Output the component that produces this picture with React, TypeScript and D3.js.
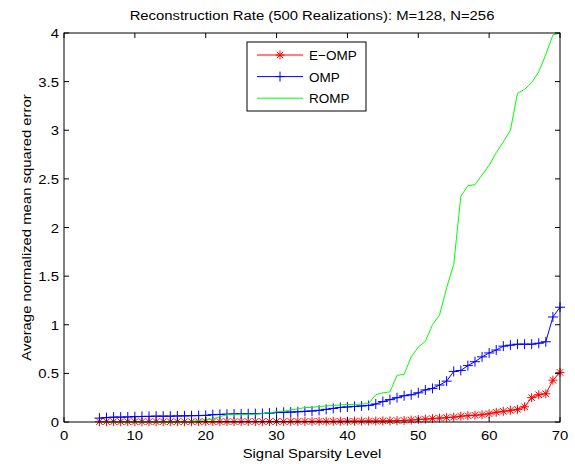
import React, { useEffect, useRef } from 'react';
import * as d3 from 'd3';

const width = 575, height = 464,
    margin = { top: 33, right: 15, bottom: 42, left: 64 };

// signal sparsity levels 5..70
const sparsity = [
    5, 6, 7, 8, 9, 10, 11, 12, 13, 14, 15, 16, 17, 18, 19, 20, 21, 22, 23, 24, 25, 26,
    27, 28, 29, 30, 31, 32, 33, 34, 35, 36, 37, 38, 39, 40, 41, 42, 43, 44, 45, 46, 47,
    48, 49, 50, 51, 52, 53, 54, 55, 56, 57, 58, 59, 60, 61, 62, 63, 64, 65, 66, 67, 68,
    69, 70];

const eomp = [
    0.003, 0.003, 0.003, 0.003, 0.003, 0.003, 0.003, 0.003, 0.003, 0.003, 0.003, 0.003,
    0.003, 0.003, 0.004, 0.004, 0.004, 0.004, 0.004, 0.004, 0.004, 0.005, 0.005, 0.005,
    0.005, 0.005, 0.005, 0.006, 0.006, 0.006, 0.006, 0.007, 0.007, 0.007, 0.008, 0.008,
    0.009, 0.009, 0.01, 0.01, 0.011, 0.012, 0.014, 0.016, 0.02, 0.025, 0.03, 0.035,
    0.04, 0.045, 0.05, 0.06, 0.065, 0.07, 0.075, 0.085, 0.1, 0.11, 0.12, 0.13, 0.157,
    0.25, 0.28, 0.29, 0.43, 0.51];

const omp = [
    0.04, 0.045, 0.05, 0.05, 0.052, 0.055, 0.057, 0.058, 0.06, 0.06, 0.06, 0.062, 0.063,
    0.065, 0.066, 0.068, 0.075, 0.078, 0.08, 0.082, 0.083, 0.085, 0.086, 0.088, 0.092,
    0.097, 0.1, 0.102, 0.105, 0.11, 0.113, 0.12, 0.13, 0.14, 0.15, 0.155, 0.16, 0.165,
    0.17, 0.185, 0.21, 0.23, 0.25, 0.27, 0.28, 0.3, 0.33, 0.345, 0.38, 0.42, 0.52, 0.53,
    0.58, 0.62, 0.67, 0.71, 0.74, 0.78, 0.79, 0.8, 0.8, 0.8, 0.81, 0.825, 1.08, 1.18];

const romp = [
    0, 0, 0, 0, 0, 0, 0, 0, 0, 0, 0, 0, 0, 0.005, 0.015, 0.025, 0.03, 0.055, 0.075,
    0.075, 0.078, 0.08, 0.08, 0.085, 0.095, 0.105, 0.11, 0.125, 0.135, 0.148, 0.15,
    0.16, 0.165, 0.17, 0.175, 0.18, 0.18, 0.185, 0.19, 0.28, 0.3, 0.31, 0.48, 0.49, 0.67,
    0.77, 0.83, 1.0, 1.1, 1.38, 1.62, 2.32, 2.43, 2.44, 2.54, 2.64, 2.77, 2.88, 3.0,
    3.38, 3.42, 3.49, 3.6, 3.78, 3.98, 4.0];

const xTicks = [0, 10, 20, 30, 40, 50, 60, 70];
const yTicks = [0, 0.5, 1, 1.5, 2, 2.5, 3, 3.5, 4];

const series = [
    { name: 'E\u2212OMP', values: eomp, color: '#ff0000', marker: 'star' },
    { name: 'OMP', values: omp, color: '#0000ff', marker: 'plus' },
    { name: 'ROMP', values: romp, color: '#00ff00', marker: 'none' },
];

const font = '"Liberation Sans", Arial, sans-serif';
const fontSize = 13.5;
const stretch = 1.1; // reference text is a bit wider than Arial

// MATLAB-like marker path centred on 0,0
function markerPath(type: string, r: number) {
    if (type === 'plus') return `M${-r},0H${r}M0,${-r}V${r}`;
    if (type === 'star') {
        const k = r * 0.72;
        return `M${-r},0H${r}M0,${-r}V${r}M${-k},${-k}L${k},${k}M${-k},${k}L${k},${-k}`;
    }
    return '';
}

export default function App() {
    const ref = useRef<SVGSVGElement>(null);

    useEffect(() => {
        const svg = d3.select(ref.current);
        svg.selectAll('*').remove();

        const x = d3.scaleLinear().domain([0, 70]).range([margin.left, width - margin.right]);
        const y = d3.scaleLinear().domain([0, 4]).range([height - margin.bottom, margin.top]);
        const [x0, x1] = x.range();
        const [y0, y1] = y.range();

        svg.append('rect').attr('width', width).attr('height', height).attr('fill', '#fff');

        // series lines + markers
        const line = d3.line<number>()
            .x((d, i) => x(sparsity[i]))
            .y(d => y(d));

        series.forEach(s => {
            svg.append('path')
                .attr('d', line(s.values))
                .attr('fill', 'none')
                .attr('stroke', s.color)
                .attr('stroke-width', 1);
            if (s.marker !== 'none') {
                svg.append('g').selectAll('path')
                    .data(s.values)
                    .join('path')
                    .attr('transform', (d, i) => `translate(${x(sparsity[i])},${y(d)})`)
                    .attr('d', markerPath(s.marker, s.marker === 'star' ? 4.5 : 5))
                    .attr('fill', 'none')
                    .attr('stroke', s.color)
                    .attr('stroke-width', 1);
            }
        });

        // box and ticks
        const axes = svg.append('g').attr('stroke', '#000').attr('stroke-width', 1).attr('fill', 'none');
        axes.append('rect')
            .attr('x', x0).attr('y', y1)
            .attr('width', x1 - x0).attr('height', y0 - y1);
        xTicks.forEach(t => {
            axes.append('line').attr('x1', x(t)).attr('x2', x(t)).attr('y1', y0).attr('y2', y0 - 5);
            axes.append('line').attr('x1', x(t)).attr('x2', x(t)).attr('y1', y1).attr('y2', y1 + 5);
        });
        yTicks.forEach(t => {
            axes.append('line').attr('x1', x0).attr('x2', x0 + 5).attr('y1', y(t)).attr('y2', y(t));
            axes.append('line').attr('x1', x1).attr('x2', x1 - 5).attr('y1', y(t)).attr('y2', y(t));
        });

        const text = svg.append('g').attr('font-family', font).attr('font-size', fontSize).attr('fill', '#000');
        const label = (tx: number, ty: number, s: string | number, anchor: string, rot = 0) =>
            text.append('text')
                .attr('transform', `translate(${tx},${ty}) rotate(${rot}) scale(${stretch},1)`)
                .attr('text-anchor', anchor).text(s);

        xTicks.forEach(t => label(x(t), y0 + 18, t, 'middle'));
        yTicks.forEach(t => label(x0 - 5, y(t) + 5, t, 'end'));

        label((x0 + x1) / 2, 20, 'Reconstruction Rate (500 Realizations): M=128, N=256', 'middle');
        label((x0 + x1) / 2, 458, 'Signal Sparsity Level', 'middle');
        label(31, (y0 + y1) / 2, 'Average normalized mean squared error', 'middle', -90);

        // legend
        const lg = svg.append('g').attr('transform', 'translate(247,42)');
        lg.append('rect').attr('width', 119).attr('height', 69)
            .attr('fill', '#fff').attr('stroke', '#000').attr('stroke-width', 1);
        series.forEach((s, i) => {
            const ly = 13 + i * 21.6;
            lg.append('line').attr('x1', 10).attr('x2', 56).attr('y1', ly).attr('y2', ly)
                .attr('stroke', s.color).attr('stroke-width', 1);
            if (s.marker !== 'none') {
                lg.append('path').attr('transform', `translate(33,${ly})`)
                    .attr('d', markerPath(s.marker, s.marker === 'star' ? 4.5 : 5))
                    .attr('fill', 'none').attr('stroke', s.color).attr('stroke-width', 1);
            }
            lg.append('text').attr('x', 62).attr('y', ly + 5)
                .attr('font-family', font).attr('font-size', fontSize).text(s.name);
        });
    }, []);

    return (
        <svg ref={ref} width={width} height={height}
            style={{ position: 'absolute', left: 0, top: 0 }} />
    );
}
